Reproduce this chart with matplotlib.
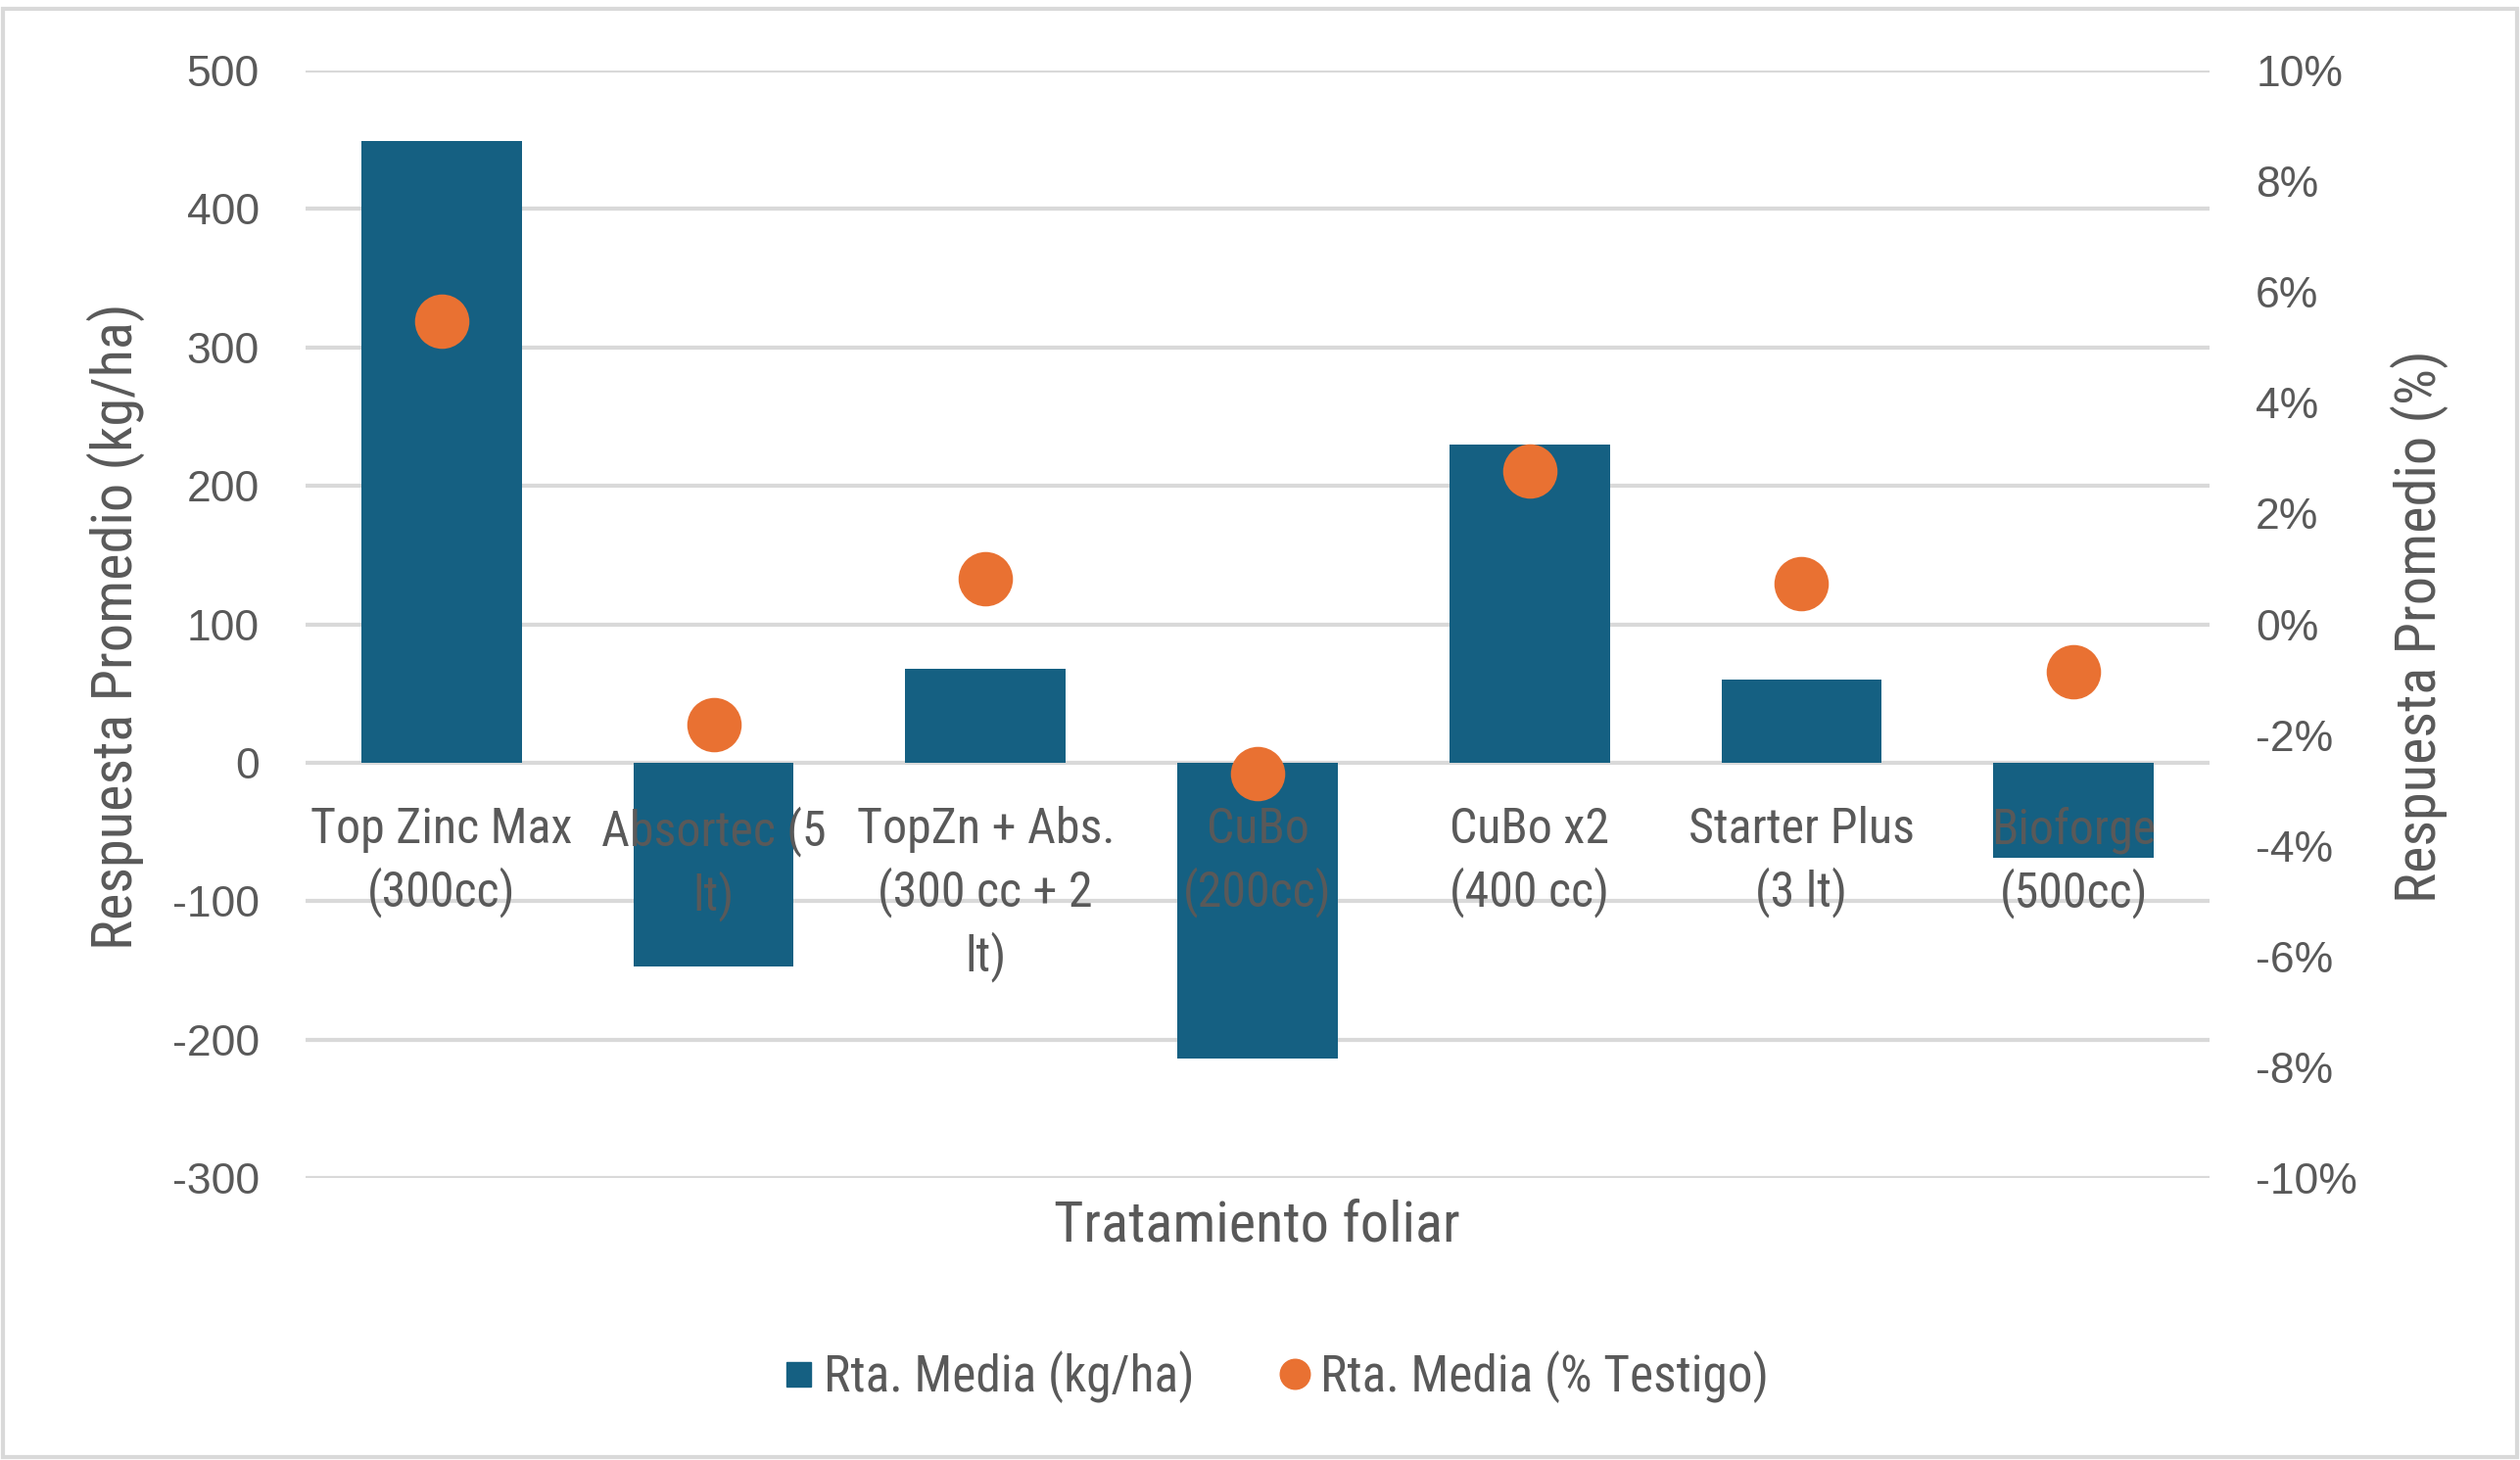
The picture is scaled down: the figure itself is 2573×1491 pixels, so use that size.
#!/usr/bin/env python3
# -*- coding: utf-8 -*-

import matplotlib.pyplot as plt
from matplotlib import font_manager
from matplotlib.lines import Line2D
from matplotlib.patches import Rectangle
from matplotlib.ticker import FuncFormatter

# -----------------------
# Data
# -----------------------
categories = [
    "Top Zinc Max\n(300cc)",
    "Absortec (5\nlt)",
    "TopZn + Abs.\n(300 cc + 2\nlt)",
    "CuBo\n(200cc)",
    "CuBo x2\n(400 cc)",
    "Starter Plus\n(3 lt)",
    "Bioforge\n(500cc)",
]
rta_kg = [449, -147, 68, -214, 230, 60, -69]
rta_pct = [5.47, -1.81, 0.83, -2.69, 2.77, 0.74, -0.86]

left_ticks = [-300, -200, -100, 0, 100, 200, 300, 400, 500]
right_ticks = [-10, -8, -6, -4, -2, 0, 2, 4, 6, 8, 10]

BLUE = "#156082"
ORANGE = "#E97132"
GRAY = "#595959"
GRID = "#D9D9D9"

# pick a condensed face if one is installed
installed = {f.name for f in font_manager.fontManager.ttflist}
narrow_pref = ["Liberation Sans Narrow", "Roboto Condensed", "Open Sans Condensed",
               "DejaVu Sans Condensed", "Liberation Sans"]
NARROW = [f for f in narrow_pref if f in installed][:1] + ["DejaVu Sans"]
NUM = ["Liberation Sans", "DejaVu Sans"]
plt.rcParams["axes.unicode_minus"] = False

W, H = 2573, 1491
fig = plt.figure(figsize=(W / 100, H / 100), dpi=100)
ax = fig.add_axes([312 / W, 1 - 1203 / H, (2256 - 312) / W, (1203 - 72) / H])

x = list(range(len(categories)))

# gridlines behind bars
for v in left_ticks:
    ax.axhline(v, color=GRID, lw=3, zorder=0.5)

ax.bar(x, rta_kg, width=0.59, color=BLUE, zorder=1)
ax.set_xlim(-0.5, len(categories) - 0.5)
ax.set_ylim(-300, 500)
ax.set_yticks(left_ticks)
ax.tick_params(axis="y", length=0, pad=34, labelsize=32, labelcolor=GRAY)
for t in ax.get_yticklabels():
    t.set_family(NUM)

# category labels sit just under the zero line
ax.spines["bottom"].set_position(("data", 0))
ax.set_xticks(x)
ax.set_xticklabels(categories, fontsize=36, color=GRAY, family=NARROW,
                   linespacing=1.35)
ax.tick_params(axis="x", length=0, pad=32)
for s in ax.spines.values():
    s.set_visible(False)

# percentage axis
ax2 = ax.twinx()
ax2.scatter(x, rta_pct, s=1600, color=ORANGE, zorder=3, linewidths=0)
ax2.set_ylim(-10, 10)
ax2.set_yticks(right_ticks)
ax2.yaxis.set_major_formatter(FuncFormatter(lambda v, p: f"{v:.0f}%"))
ax2.tick_params(axis="y", length=0, pad=34, labelsize=32, labelcolor=GRAY)
for t in ax2.get_yticklabels():
    t.set_family(NUM)
for s in ax2.spines.values():
    s.set_visible(False)

# axis titles
fig.text(118 / W, 1 - 640 / H, "Respuesta Promedio (kg/ha)", rotation=90,
         ha="center", va="center", fontsize=42, color=GRAY, family=NARROW)
fig.text(2470 / W, 1 - 640 / H, "Respuesta Promedio (%)", rotation=90,
         ha="center", va="center", fontsize=42, color=GRAY, family=NARROW)
fig.text(1283 / W, 1 - 1252 / H, "Tratamiento foliar", ha="center",
         va="center", fontsize=42, color=GRAY, family=NARROW)

# legend
handles = [
    Line2D([], [], marker="s", ls="", color=BLUE, markersize=18),
    Line2D([], [], marker="o", ls="", color=ORANGE, markersize=22),
]
leg = fig.legend(handles, ["Rta. Media (kg/ha)", "Rta. Media (% Testigo)"],
                 loc="center", bbox_to_anchor=(1300 / W, 1 - 1406 / H),
                 ncol=2, frameon=False, handletextpad=0.1, columnspacing=1.6,
                 handlelength=0.8, prop={"family": NARROW, "size": 37})
for t in leg.get_texts():
    t.set_color(GRAY)

# light border round the chart
fig.patches.append(Rectangle((3 / W, 3 / H), 1 - 6 / W, 1 - 12 / H,
                             transform=fig.transFigure, fill=False,
                             edgecolor=GRID, lw=3))

fig.savefig("out.png", dpi=100)
